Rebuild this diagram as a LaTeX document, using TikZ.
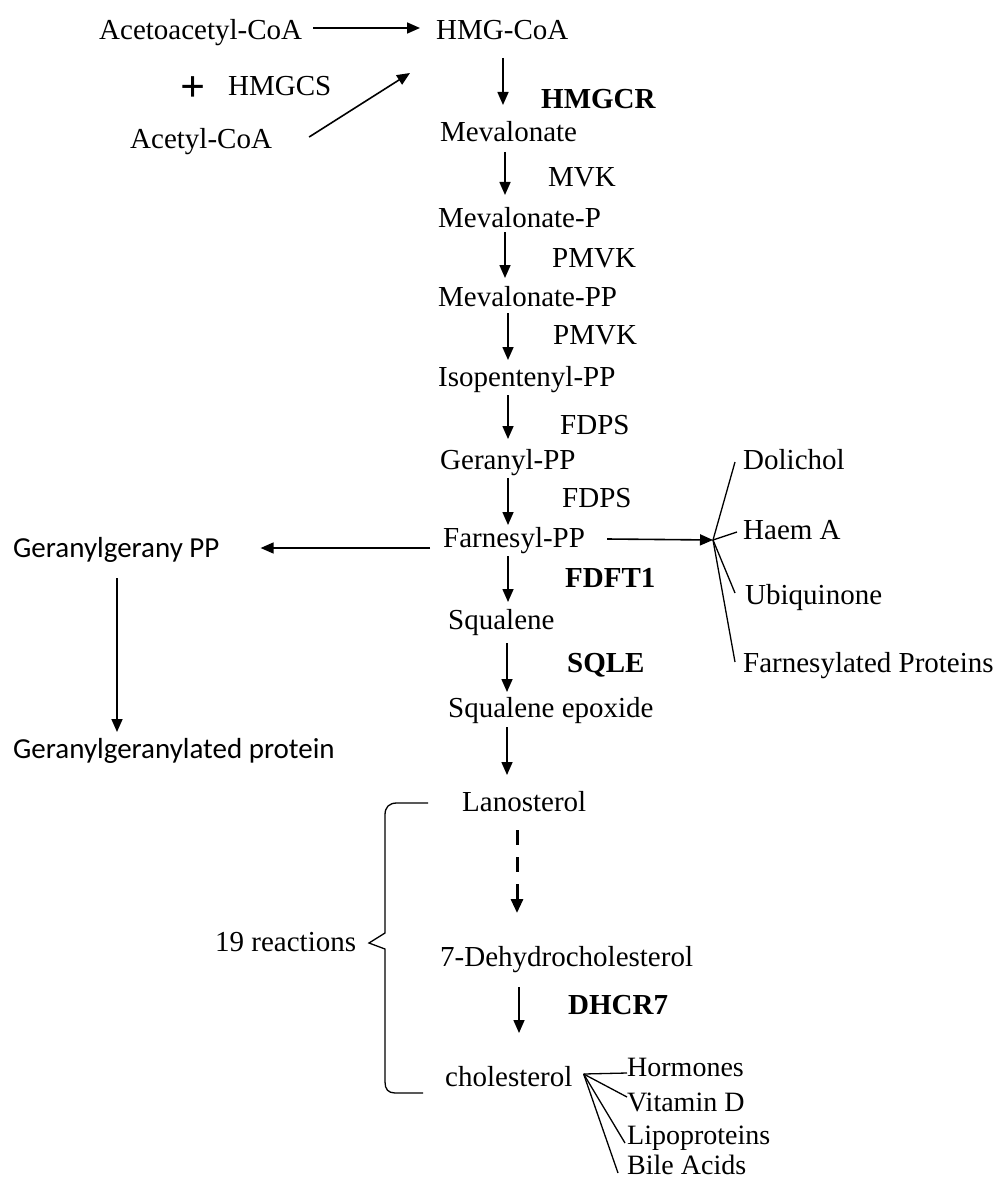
\documentclass[tikz,border=0pt]{standalone}
\usepackage{fontspec}
\setmainfont{Liberation Serif}
\newfontfamily\calib{Carlito}
\usetikzlibrary{arrows.meta,calc}
\begin{document}
\begin{tikzpicture}[x=1pt,y=-1pt,
  lbl/.style={anchor=base west,inner sep=0pt,font=\fontsize{29pt}{34pt}\selectfont,text height=20pt,text depth=6pt},
  enz/.style={lbl,font=\fontsize{29pt}{34pt}\selectfont\bfseries},
  sans/.style={lbl,font=\fontsize{29pt}{34pt}\selectfont\calib},
  sm/.style={lbl,font=\fontsize{28pt}{32pt}\selectfont},
  arr/.style={-{Triangle[width=11pt,length=13pt]},line width=1.6pt},
  dasharr/.style={-{Triangle[width=12pt,length=14pt]},line width=3pt,dash pattern=on 15pt off 12pt},
  ln/.style={line width=1.3pt}]
\useasboundingbox[fill=white] (0,0) rectangle (998,1177);

% main column
\node[lbl] (acac) at (99,40) {Acetoacetyl-CoA};
\node[lbl] (hmg) at (436,40) {HMG-CoA};
\node[inner sep=0pt,font=\fontsize{44pt}{44pt}\selectfont\bfseries] (plus) at (193,89) {+};
\node[lbl] (hmgcs) at (228,96) {HMGCS};
\node[lbl] (acetyl) at (130,149) {Acetyl-CoA};
\node[enz] (hmgcr) at (541,109) {HMGCR};
\node[lbl] (mev) at (440,142) {Mevalonate};
\node[lbl] (mvk) at (548,186) {MVK};
\node[lbl] (mevp) at (438,227) {Mevalonate-P};
\node[lbl] (pmvka) at (552,267) {PMVK};
\node[lbl] (mevpp) at (438,306) {Mevalonate-PP};
\node[lbl] (pmvkb) at (553,344) {PMVK};
\node[lbl] (iso) at (438,386) {Isopentenyl-PP};
\node[lbl] (fdpsa) at (560,434) {FDPS};
\node[lbl] (ger) at (440,469) {Geranyl-PP};
\node[lbl] (fdpsb) at (562,507) {FDPS};
\node[lbl] (far) at (443,547) {Farnesyl-PP};
\node[enz] (fdft) at (565,587) {FDFT1};
\node[lbl] (sq) at (448,629) {Squalene};
\node[enz] (sqle) at (567,672) {SQLE};
\node[lbl] (sqe) at (448,717) {Squalene epoxide};
\node[lbl] (lano) at (462,811) {Lanosterol};
\node[lbl] (dhc) at (440,966) {7-Dehydrocholesterol};
\node[enz] (dhcr) at (568,1014) {DHCR7};
\node[lbl] (chol) at (445,1086) {cholesterol};

% left branch
\node[sans] (ggpp) at (13,557) {Geranylgerany PP};
\node[sans] (ggprot) at (13,758) {Geranylgeranylated protein};

% right branch
\node[lbl] (dol) at (743,469) {Dolichol};
\node[lbl] (haem) at (743,539) {Haem A};
\node[lbl] (ubi) at (745,604) {Ubiquinone};
\node[lbl] (fprot) at (743,672) {Farnesylated Proteins};

% brace label
\node[lbl] (reac) at (215,951) {19 reactions};

% cholesterol products
\node[sm] (horm) at (627,1076) {Hormones};
\node[sm] (vitd) at (627,1111) {Vitamin D};
\node[sm] (lipo) at (627,1144) {Lipoproteins};
\node[sm] (bile) at (627,1174) {Bile Acids};

% top arrows
\draw[arr] ($(acac.base east)+(11,-12)$) -- ($(hmg.base west)+(-16,-12)$);
\draw[arr] ($(acetyl.base east)+(37,-12)$) -- ($(hmg.base west)+(-26,33)$);

% vertical arrows
\draw[arr] ($(hmg.base west)+(67,18)$) -- ($(mev.base west)+(63,-37)$);
\draw[arr] ($(mev.base west)+(65,10)$) -- ($(mevp.base west)+(67,-32)$);
\draw[arr] ($(mevp.base west)+(67,5)$) -- ($(mevpp.base west)+(67,-28)$);
\draw[arr] ($(mevpp.base west)+(70,7)$) -- ($(iso.base west)+(70,-26)$);
\draw[arr] ($(iso.base west)+(70,9)$) -- ($(ger.base west)+(68,-30)$);
\draw[arr] ($(ger.base west)+(68,9)$) -- ($(far.base west)+(65,-22)$);
\draw[arr] ($(far.base west)+(65,9)$) -- ($(sq.base west)+(60,-27)$);
\draw[arr] ($(sq.base west)+(59,14)$) -- ($(sqe.base west)+(59,-25)$);
\draw[arr] ($(sqe.base west)+(59,10)$) -- ($(lano.base west)+(45,-36)$);
\draw[dasharr] ($(lano.base west)+(55,19)$) -- ($(dhc.base west)+(77,-53)$);
\draw[arr] ($(dhc.base west)+(79,21)$) -- ($(chol.base west)+(74,-53)$);

% left branch arrows
\draw[arr] ($(far.base west)+(-13,1)$) -- ($(ggpp.base east)+(41,-9)$);
\draw[arr] ($(ggpp.base west)+(104,21)$) -- ($(ggprot.base west)+(104,-26)$);

% right branch
\coordinate (hub) at (713,540);
\draw[arr] ($(far.base east)+(22,-8)$) -- (hub);
\draw[ln] (hub) -- ($(dol.base west)+(-8,-7)$);
\draw[ln] (hub) -- ($(haem.base west)+(-6,-7)$);
\draw[ln] (hub) -- ($(ubi.base west)+(-10,-11)$);
\draw[ln] (hub) -- ($(fprot.base west)+(-8,-10)$);

% brace
\draw[ln] ($(lano.base west)+(-34,-8)$) -- (397,803) .. controls (389,803) and (385,807) .. (385,815)
  -- (385,933) -- (369,943) -- (385,949) -- (385,1082)
  .. controls (385,1089) and (388,1093) .. (395,1093) -- ($(chol.base west)+(-22,7)$);

% cholesterol fan
\coordinate (chub) at ($(chol.base east)+(11,-12)$);
\draw[ln] (chub) -- ($(horm.base west)+(0,-3)$);
\draw[ln] (chub) -- ($(vitd.base west)+(0,-14)$);
\draw[ln] (chub) -- ($(lipo.base west)+(-2,-1)$);
\draw[ln] (chub) -- ($(bile.base west)+(-9,-1)$);
\end{tikzpicture}
\end{document}
